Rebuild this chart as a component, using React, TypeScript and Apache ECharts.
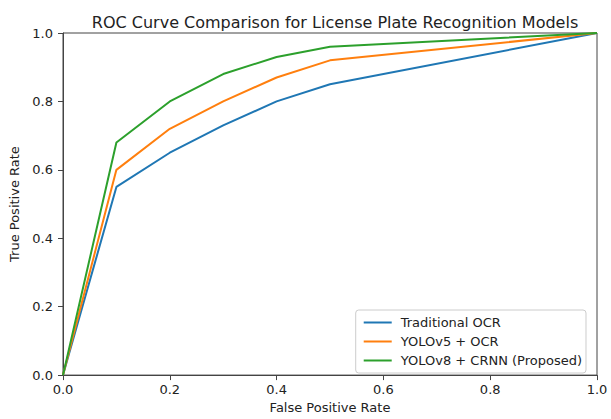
import React, { useEffect, useRef } from "react";
import * as echarts from "echarts";

const fpr = [0, 0.1, 0.2, 0.3, 0.4, 0.5, 1.0];
const traditionalOCR = [0, 0.55, 0.65, 0.73, 0.8, 0.85, 1.0];
const yolov5OCR = [0, 0.6, 0.72, 0.8, 0.87, 0.92, 1.0];
const yolov8CRNN = [0, 0.68, 0.8, 0.88, 0.93, 0.96, 1.0];
const seriesNames = ["Traditional OCR", "YOLOv5 + OCR", "YOLOv8 + CRNN (Proposed)"];
const seriesColors = ["#1f77b4", "#ff7f0e", "#2ca02c"];

const FONT = "DejaVu Sans";

export default function App() {
  const ref = useRef<HTMLDivElement>(null);
  useEffect(() => {
    if (!ref.current) return;
    document.body.style.margin = "0";
    document.body.style.overflow = "hidden";
    const chart = echarts.init(ref.current, undefined, { renderer: "svg", width: 611, height: 419 });
    const values = [traditionalOCR, yolov5OCR, yolov8CRNN];
    const axisCommon = {
      type: "value" as const,
      min: 0,
      max: 1,
      interval: 0.2,
      axisLine: { show: true, lineStyle: { color: "#444", width: 1 } },
      axisTick: { show: true, inside: false, length: 5, lineStyle: { color: "#444", width: 1 } },
      axisLabel: {
        color: "#222",
        fontFamily: FONT,
        fontSize: 13,
        formatter: (v: number) => v.toFixed(1),
      },
      splitLine: { show: false },
      nameLocation: "middle" as const,
      nameTextStyle: { color: "#222", fontFamily: FONT, fontSize: 13 },
    };
    chart.setOption({
      animation: false,
      backgroundColor: "#fff",
      title: {
        text: "ROC Curve Comparison for License Plate Recognition Models",
        left: 330,
        top: 9,
        textAlign: "center",
        textStyle: { fontFamily: FONT, fontSize: 16, fontWeight: "normal", color: "#222" },
      },
      grid: {
        left: 63,
        right: 14,
        top: 33,
        bottom: 38,
        show: true,
        borderColor: "#444",
        borderWidth: 1,
        backgroundColor: "transparent",
      },
      legend: {
        orient: "vertical",
        right: 25,
        bottom: 46,
        data: seriesNames,
        icon: "rect",
        itemWidth: 28,
        itemHeight: 2,
        itemGap: 4,
        padding: [5, 4, 5, 8],
        borderColor: "#ccc",
        borderWidth: 1,
        borderRadius: 3,
        backgroundColor: "rgba(255,255,255,0.8)",
        textStyle: { fontFamily: FONT, fontSize: 13, color: "#222", lineHeight: 15, padding: [0, 0, 0, 4] },
      },
      xAxis: { ...axisCommon, name: "False Positive Rate", nameGap: 23, axisLabel: { ...axisCommon.axisLabel, margin: 8 } },
      yAxis: { ...axisCommon, name: "True Positive Rate", nameGap: 37, axisLabel: { ...axisCommon.axisLabel, margin: 10 } },
      series: seriesNames.map((name, i) => ({
        name,
        type: "line",
        symbol: "none",
        color: seriesColors[i],
        lineStyle: { width: 2, color: seriesColors[i] },
        data: fpr.map((x, j) => [x, values[i][j]]),
      })),
    });
    return () => chart.dispose();
  }, []);
  return <div ref={ref} style={{ width: 611, height: 419 }} />;
}
